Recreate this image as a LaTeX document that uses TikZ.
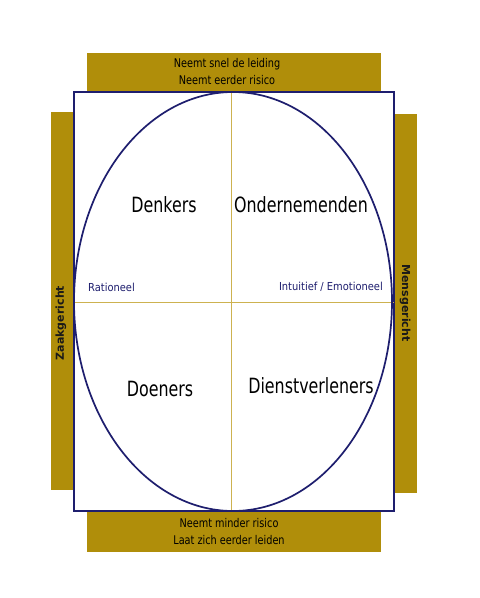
\documentclass[tikz,border=0pt]{standalone}
\usepackage{fontspec}
\setmainfont{DejaVu Sans Condensed}
\newfontfamily\quadfont[FakeStretch=0.84]{DejaVu Sans Condensed}
\newfontfamily\barfont[FakeStretch=0.9]{DejaVu Sans Condensed}
\newfontfamily\sidefont{DejaVu Sans}
\definecolor{barGold}{RGB}{176,142,10}
\definecolor{lineGold}{RGB}{205,178,80}
\definecolor{navy}{RGB}{30,30,110}
\begin{document}
\begin{tikzpicture}[x=1pt,y=-1pt,
  bar/.style={fill=barGold,draw=none},
  quad/.style={font=\quadfont\fontsize{21}{24}\selectfont,text=black,inner sep=0pt},
  axislbl/.style={font=\fontsize{11}{13}\selectfont,text=navy,inner sep=0pt},
  barlbl/.style={font=\barfont\fontsize{12}{17}\selectfont,text=black,align=center,inner sep=0pt},
  sidelbl/.style={font=\sidefont\bfseries\fontsize{11}{12}\selectfont,text=black!90,inner sep=0pt}]
\useasboundingbox (0,0) rectangle (480,598);
\fill[white] (0,0) rectangle (480,598);
% bars
\path[bar] (87,53) rectangle (381,92);
\path[bar] (87,511) rectangle (381,552);
\path[bar] (51,112) rectangle (74,490);
\path[bar] (394,114) rectangle (417,493);
% frame
\draw[navy,fill=white,line width=1.5pt] (74,92) rectangle (394,511);
% dividers
\coordinate (top) at (231,92);
\coordinate (bot) at (231,511);
\coordinate (lft) at (74,302);
\coordinate (rgt) at (394,302);
\draw[lineGold,line width=1pt] (top) -- (bot);
\draw[lineGold,line width=1pt] (lft) -- (rgt);
% ellipse
\draw[navy,line width=1.7pt] (233,301.5) ellipse [x radius=159, y radius=209.5];
% texts
\node[quad] (denk) at (164,205) {Denkers};
\node[quad] (onder) at (301,205) {Ondernemenden};
\node[quad] (doen) at (160,389) {Doeners};
\node[quad] (dienst) at (311,386) {Dienstverleners};
\node[axislbl,anchor=west] (rat) at (88,287) {Rationeel};
\node[axislbl,anchor=east] (intu) at (383,287) {Intuitief / Emotioneel};
\node[barlbl] (toplbl) at (227,72) {Neemt snel de leiding\\Neemt eerder risico};
\node[barlbl] (botlbl) at (229,532) {Neemt minder risico\\Laat zich eerder leiden};
\node[sidelbl,rotate=90] (zaak) at (61,323) {Zaakgericht};
\node[sidelbl,rotate=-90] (mens) at (405,303) {Mensgericht};
\end{tikzpicture}
\end{document}
